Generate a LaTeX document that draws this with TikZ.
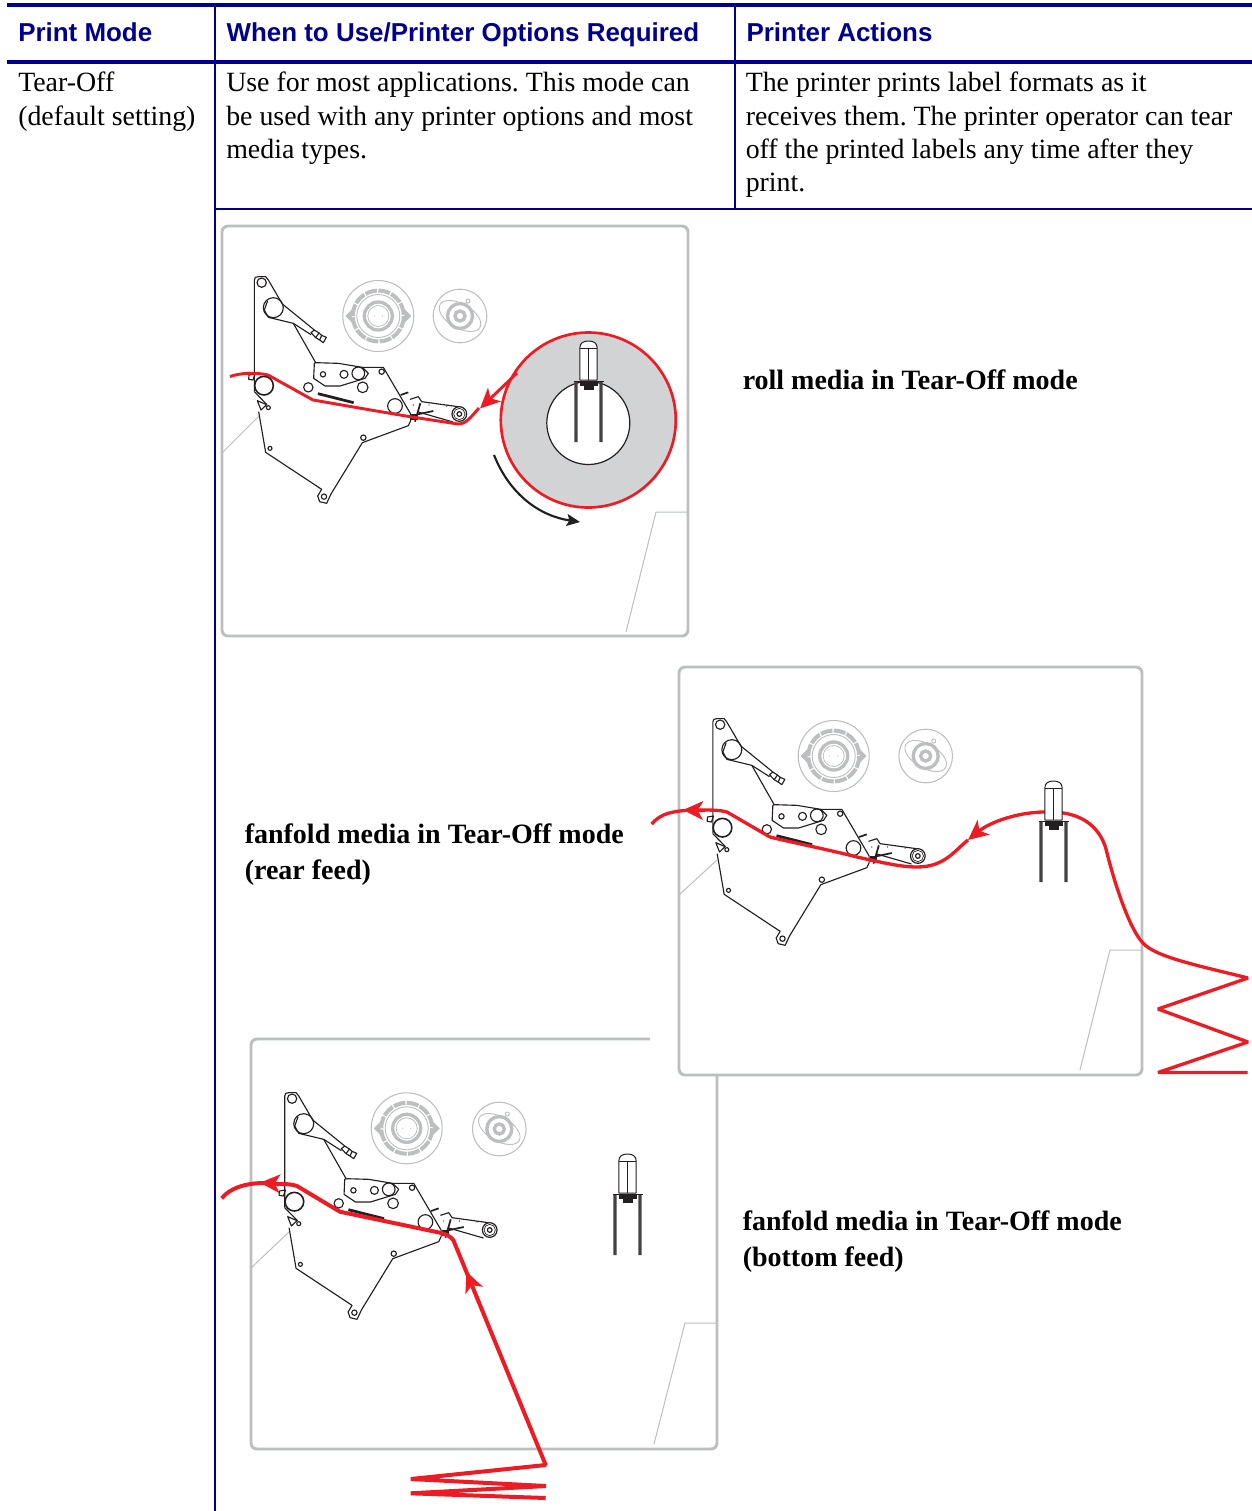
\documentclass[tikz,border=0pt]{standalone}
\usepackage{fontspec}
\setmainfont{Liberation Serif}
\newfontfamily\headfont{Liberation Sans}
\frenchspacing
\usepackage{xcolor}
\definecolor{TableBlue}{HTML}{00008F}
\definecolor{PaperRed}{HTML}{ED1C24}
\definecolor{PanelGray}{HTML}{BCBEC0}
\definecolor{RollGray}{HTML}{D1D3D4}
\definecolor{MechBlack}{HTML}{231F20}
\usetikzlibrary{arrows.meta}
\tikzset{
  headcell/.style={anchor=base west, inner sep=0pt, text=TableBlue,
                   font=\headfont\bfseries\fontsize{19.45pt}{24pt}\selectfont},
  bodycell/.style={anchor=north west, inner sep=0pt, align=left,
                   font=\fontsize{20.9pt}{25pt}\selectfont},
  caption/.style={anchor=north west, inner sep=0pt, align=left,
                  font=\bfseries\fontsize{21pt}{27pt}\selectfont},
  panel/.style={draw=PanelGray, line width=2.2pt, rounded corners=4.5pt},
  panelthin/.style={draw=PanelGray, line width=0.75pt},
  mech/.style={draw=MechBlack, line width=0.85pt, line join=round},
  mechfill/.style={draw=MechBlack, fill=MechBlack, line width=0.6pt},
  paper/.style={draw=PaperRed, line width=2.2pt, line join=round},
  paperrear/.style={draw=PaperRed, line width=2.5pt, line join=bevel},
  paperfat/.style={draw=PaperRed, line width=3pt, line join=bevel},
  papertip/.style={-{Stealth[length=15pt, width=14pt, inset=4pt]}},
  mechanism/.pic={
    % Plate and upper arm
    \draw[mech] (88,395) -- (88,60) .. controls (88,52) and (92,50) .. (100,50) -- (122,50)
      -- (130,60) -- (172,132) -- (268,210);
    \draw[mech] (88,395) -- (126,434);
    \draw[mech] (118,150) -- (130,172) -- (205,190) -- (258,224);
    \draw[mech] (118,150) -- (128,122);
    \draw[mech] (205,190) -- (272,308);
    \draw[mech] (258,218) -- (268,210) -- (282,219) -- (272,233) -- cycle;
    \draw[mech] (282,219) -- (290,226) (272,233) -- (284,240);
    \draw[mech] (290,226) -- (304,232) -- (295,248) -- (284,240) -- cycle;
    % Bracket
    \draw[mech] (272,308) -- (340,310) -- (412,322) -- (430,340) -- (420,355) -- (345,378)
      -- (300,378) -- (266,355) -- (268,310) -- cycle;
    % Lower plate
    \draw[mech] (101,455) -- (122,577) -- (290,688) -- (278,708) -- (284,725) -- (305,730)
      -- (318,702) -- (412,548) -- (550,497) -- (557,482) -- (557,462) -- (475,322) -- (412,322);
    \draw[mech] (97,422) -- (108,450) -- (125,434) -- cycle;
    \draw[mech] (72,345) -- (90,342) -- (84,360) -- (71,358) -- cycle;
    % Rollers and pins
    \foreach \px/\py/\pr in {110/68/14, 145/143/30, 294/343/8, 357/343/12, 400/340/19,
                             250/382/14, 413/382/16, 470/335/8, 510/438/22, 415/533/8,
                             135/565/6, 130/443/6, 297/710/8}{
      \draw[mech] (\px,\py) circle[radius=\pr];
    }
    \draw[mech, line width=1.2pt] (117,377) circle[radius=28];
    % Peel strip
    \fill[MechBlack] (280,397) -- (387,424) -- (385,432) -- (278,405) -- cycle;
    % Tear arm
    \draw[mech] (555,418) -- (580,410) -- (590,425) -- (699,440);
    \draw[mech] (580,456) -- (684,486);
    \draw[mech, line width=0.9pt] (703,462) circle[radius=22];
    \draw[mech, line width=0.5pt] (703,462) circle[radius=17];
    \draw[mech, line width=0.9pt] (703,462) circle[radius=7];
    \draw[mech, line width=1.3pt] (527,405) -- (550,397);
    \draw[mech, line width=1.3pt] (578,463) -- (625,453);
    \draw[mech, line width=1.3pt] (586,430) -- (570,485);
    \draw[mechfill] (560,462) rectangle (578,478);
    \foreach \px/\py in {565/435, 612/435, 665/438}{
      \fill[MechBlack] (\px,\py) circle[radius=2];
    }
  },
  bigspool/.pic={
    \draw[PanelGray, line width=0.8pt] (0,0) circle[radius=35.5];
    \draw[PanelGray, line width=3pt, dash pattern=on 9pt off 1pt] (0,0) circle[radius=25.5];
    \draw[PanelGray, line width=0.7pt] (0,0) circle[radius=21.5];
    \draw[PanelGray, line width=2.5pt] (0,0) circle[radius=14];
    \draw[PanelGray, line width=0.6pt] (0,0) circle[radius=10.5];
    \fill[PanelGray] (-4,0) circle[radius=0.6] (4,0) circle[radius=0.6];
    \fill[PanelGray] (-33,0) -- (-26,-7) -- (-26,7) -- cycle;
    \fill[PanelGray] (33,0) -- (26,-7) -- (26,7) -- cycle;
  },
  smallspool/.pic={
    \draw[PanelGray, line width=0.8pt] (0,0) circle[radius=26.8];
    \draw[PanelGray, line width=0.7pt, rotate=-30] (0,0) ellipse[x radius=23, y radius=12];
    \draw[PanelGray, line width=2.5pt, fill=white] (0,0) circle[radius=12.5];
    \draw[PanelGray, line width=2.5pt] (0,0) circle[radius=5];
    \draw[PanelGray, line width=0.7pt, fill=white] (8,-15) circle[radius=2];
  },
  spindle/.pic={
    \draw[mech, fill=white, line width=0.75pt] (-8.7,0) -- (-8.7,-32) .. controls (-8.7,-37) and (-5,-39) .. (0,-39)
      .. controls (5,-39) and (8.7,-37) .. (8.7,-32) -- (8.7,0) -- cycle;
    \draw[mech, line width=0.75pt] (-8.7,-32) -- (8.7,-32) (0,-32) -- (0,0);
    \draw[mech, line width=0.9pt] (-15,1.5) -- (15,1.5);
    \fill[MechBlack!85] (-14.2,2) rectangle (-10.8,62) (10.8,2) rectangle (14.2,62);
    \fill[MechBlack] (-9,1) rectangle (9,6);
    \fill[MechBlack] (-5,6) rectangle (5,10);
  }
}
\begin{document}
\begin{tikzpicture}[x=0.75pt, y=-0.75pt]
  \useasboundingbox (0,0) rectangle (1252,1511);
  % Panels
  \draw[panel] (222,226) rectangle (688,636);
  \draw[panel] (251,1060) |- (650,1039);
  \draw[panel] (251,1060) -- (251,1449) -| (717,1076);
  \draw[panel] (679,667) rectangle (1142,1075);
  \draw[panelthin] (222,453) -- (260,415);
  \draw[panelthin] (626,632) -- (656,512) -- (688,512);
  \draw[panelthin] (679,895) -- (717,860);
  \draw[panelthin] (1080,1070) -- (1110,950) -- (1142,950);
  \draw[panelthin] (251,1268) -- (289,1232);
  \draw[panelthin] (654,1444) -- (685,1323) -- (716,1323);
  % Printer mechanisms
  \pic[scale=1/3] at (225,260) {mechanism};
  \pic[scale=1/3] at (683.5,702) {mechanism};
  \pic[scale=1/3] at (255.4,1076) {mechanism};
  \pic at (378.3,316) {bigspool};
  \pic at (460,316) {smallspool};
  \pic at (833.7,756) {bigspool};
  \pic at (925.7,756) {smallspool};
  \pic at (406.7,1128.3) {bigspool};
  \pic at (499.3,1129) {smallspool};
  % Roll media
  \draw[PaperRed, fill=RollGray, line width=2pt] (588.3,420) circle[radius=87.5];
  \draw[MechBlack, fill=white, line width=0.9pt] (588.3,423) circle[radius=41.5];
  \draw[paper] (230,376.5) .. controls (240,373) and (255,372) .. (268,375) -- (313,400)
    .. controls (325,402) and (370,410) .. (412,417) -- (458,424)
    .. controls (466,424) and (470,418) .. (479,408);
  \draw[paper, papertip] (517,373) -- (480,408.5);
  \draw[MechBlack, line width=1.6pt, -{Stealth[length=10pt, width=9pt, inset=2pt]}]
    (494,455) .. controls (510,495) and (540,516) .. (580,522);
  \pic at (588.5,380) {spindle};
  % Rear feed
  \draw[paperrear] (651.7,824) .. controls (660,814) and (672,810) .. (700,810)
    .. controls (712,810) and (720,810) .. (727,812) -- (770,837)
    .. controls (790,842) and (830,850) .. (857,857) .. controls (880,862) and (900,867) .. (917,867)
    .. controls (945,867) and (955,850) .. (968,840);
  \draw[paperrear, papertip] (1050,812) .. controls (1020,811) and (990,822) .. (968,840);
  \draw[paperrear, papertip] (705,810.5) -- (683,810);
  \draw[paperrear] (1050,812) .. controls (1085,812) and (1102,830) .. (1107,853)
    .. controls (1115,885) and (1130,930) .. (1143,943) .. controls (1155,957) and (1200,966) .. (1248,978)
    -- (1158,1009) -- (1248,1042) -- (1158,1072.5) -- (1247.5,1072.5);
  \pic at (1053.5,820) {spindle};
  % Bottom feed
  \pic at (627.5,1193) {spindle};
  \draw[paperfat] (221.7,1198.3) .. controls (230,1188) and (245,1183.5) .. (262,1183)
    -- (275,1184) .. controls (285,1184) and (292,1184) .. (297,1186) -- (340,1211.7) -- (440,1232.7)
    .. controls (446,1234) and (450,1236) .. (453.3,1240) -- (545.7,1465) -- (410.7,1479)
    -- (546,1486) -- (410.7,1493.3) -- (545.7,1498);
  \draw[paper, papertip] (285,1184) -- (260,1182.7);
  \draw[paper, papertip] (479.8,1304) -- (466.5,1271.7);
  % Table rules
  \draw[TableBlue, line width=2.5pt] (7,5) -- (1252,5);
  \draw[TableBlue, line width=2.5pt] (7,62) -- (1252,62);
  \draw[TableBlue, line width=1.5pt] (215,5) -- (215,1511);
  \draw[TableBlue, line width=1.5pt] (735,5) -- (735,209);
  \draw[TableBlue, line width=1.3pt] (215,209) -- (1252,209);
  % Table text
  \node[headcell] (modeHead) at (18,41.5) {Print Mode};
  \node[headcell] (whenHead) at (226.3,41.5) {When to Use/Printer Options Required};
  \node[headcell] (actionHead) at (746.3,41.5) {Printer Actions};
  \node[bodycell] (modeCell) at (18,72) {Tear-Off\\(default setting)};
  \node[bodycell] (whenCell) at (226,72) {Use for most applications. This mode can\\be used with any printer options and most\\media types.};
  \node[bodycell] (actionCell) at (745.5,72) {The printer prints label formats as it\\receives them. The printer operator can tear\\off the printed labels any time after they\\print.};
  % Captions
  \node[caption] (rollLabel) at (742.5,370) {roll media in Tear-Off mode};
  \node[caption] (rearLabel) at (244.5,824) {fanfold media in Tear-Off mode\\(rear feed)};
  \node[caption] (bottomLabel) at (742.5,1211) {fanfold media in Tear-Off mode\\(bottom feed)};
\end{tikzpicture}
\end{document}
